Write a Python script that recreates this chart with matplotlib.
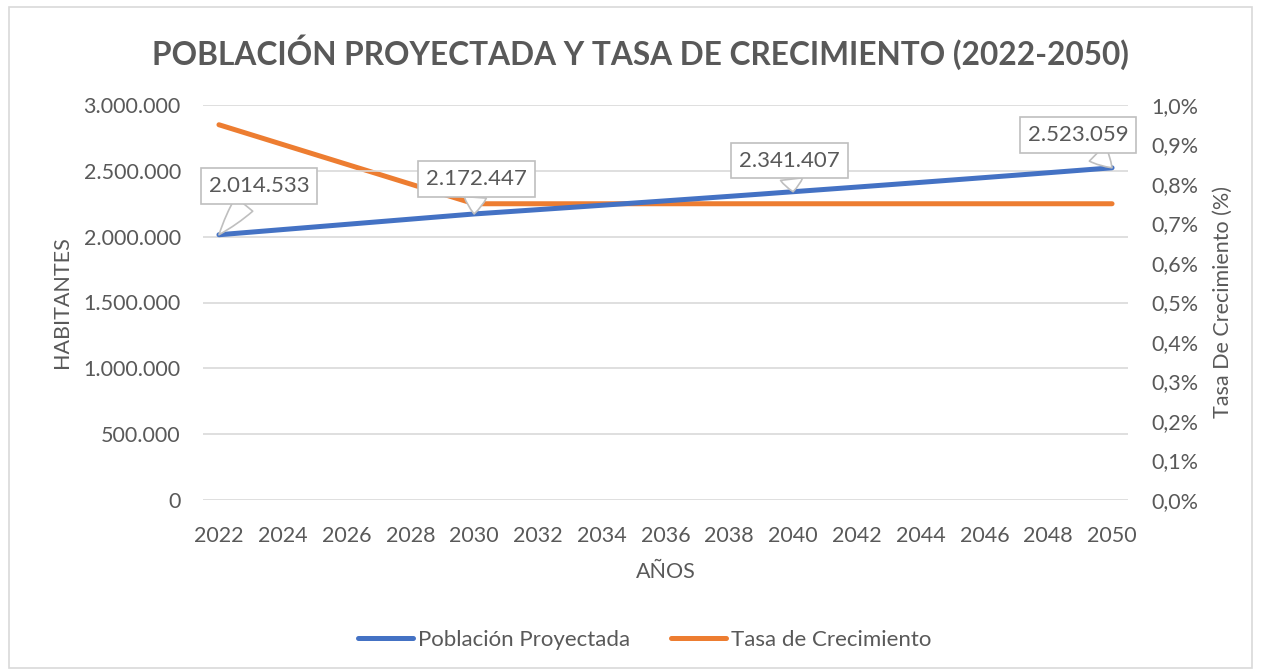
import matplotlib
matplotlib.use("Agg")
import matplotlib.pyplot as plt
from matplotlib.patches import Rectangle
from matplotlib.ticker import FuncFormatter

# Datos
years = list(range(2022, 2051))
poblacion = [2014533, 2034270, 2054010, 2073750, 2093490, 2113230, 2132970, 2152710,
             2172447, 2188740, 2205160, 2221700, 2238360, 2255150, 2272060, 2289100,
             2306270, 2323570, 2341407, 2358970, 2376660, 2394480, 2412440, 2430530,
             2448760, 2467130, 2485630, 2504270, 2523059]
tasa = [0.95, 0.925, 0.90, 0.875, 0.85, 0.825, 0.80, 0.775, 0.75,
        0.75, 0.75, 0.75, 0.75, 0.75, 0.75, 0.75, 0.75, 0.75, 0.75, 0.75,
        0.75, 0.75, 0.75, 0.75, 0.75, 0.75, 0.75, 0.75, 0.75]
label_years = [2022, 2030, 2040, 2050]
label_offsets = [(-10, 49), (-48, 35), (-54, 31), (-84, 33)]  # (dx, dy) en px

gris = "#595959"
azul = "#4472C4"
naranja = "#ED7D31"
plt.rcParams["font.family"] = ["Lato", "DejaVu Sans"]

fig = plt.figure(figsize=(12.61, 6.71), dpi=100)
fig.patches.append(Rectangle((9 / 1261, 3 / 671), 1243 / 1261, 661 / 671,
                             transform=fig.transFigure, fill=False,
                             ec="#D9D9D9", lw=1.2))

ax = fig.add_axes([203 / 1261, 1 - 500 / 671, 925 / 1261, 395 / 671])
ax2 = ax.twinx()

l1, = ax.plot(years, poblacion, color=azul, lw=3.6, solid_capstyle="round", zorder=3)
l2, = ax2.plot(years, tasa, color=naranja, lw=3.6, solid_capstyle="round", zorder=2)

ax.set_xlim(2021.5, 2050.5)
ax.set_ylim(0, 3000000)
ax2.set_ylim(0, 1.0)
ax.set_xticks(years[::2])
ax.set_yticks(range(0, 3000001, 500000))
ax2.set_yticks([i / 10 for i in range(11)])
ax.yaxis.set_major_formatter(FuncFormatter(lambda v, p: f"{int(v):,}".replace(",", ".")))
ax2.yaxis.set_major_formatter(FuncFormatter(lambda v, p: f"{v:.1f}%".replace(".", ",")))

for a in (ax, ax2):
    for s in a.spines.values():
        s.set_visible(False)
    a.tick_params(length=0, labelsize=15.5, labelcolor=gris)
ax.tick_params(axis="y", pad=16)
ax.tick_params(axis="x", pad=19)
ax2.tick_params(axis="y", pad=17)
ax.grid(axis="y", color="#D9D9D9", lw=1.2)
ax.set_axisbelow(True)
ax.set_zorder(ax2.get_zorder() + 1)
ax.patch.set_visible(False)

ax.set_xlabel("AÑOS", fontsize=15.5, color=gris, labelpad=11)
ax.set_ylabel("HABITANTES", fontsize=15.5, color=gris, labelpad=8)
ax2.set_ylabel("Tasa De Crecimiento (%)", fontsize=15.5, color=gris, labelpad=10)

fig.text(0.508, 1 - 52 / 671, "POBLACIÓN PROYECTADA Y TASA DE CRECIMIENTO (2022-2050)",
         ha="center", va="center", fontsize=22.8, fontweight="bold", color=gris)

for yr, (dx, dy) in zip(label_years, label_offsets):
    v = poblacion[years.index(yr)]
    ax.annotate(f"{v:,}".replace(",", "."), xy=(yr, v), xytext=(dx, dy),
                textcoords="offset pixels", fontsize=16, color=gris,
                ha="left", va="center", zorder=5,
                bbox=dict(boxstyle="square,pad=0.35", fc="white", ec="#BFBFBF", lw=1.2),
                arrowprops=dict(arrowstyle="wedge,tail_width=1.0,shrink_factor=0.6",
                                fc="white", ec="#BFBFBF", lw=1.2, shrinkA=0, shrinkB=0))

fig.legend([l1, l2], ["Población Proyectada", "Tasa de Crecimiento"],
           loc="center", bbox_to_anchor=(0.511, 1 - 640 / 671), ncol=2, frameon=False,
           fontsize=16, labelcolor=gris, handlelength=2.5, handletextpad=0.2,
           columnspacing=1.85)

fig.savefig("out.png", dpi=100)
